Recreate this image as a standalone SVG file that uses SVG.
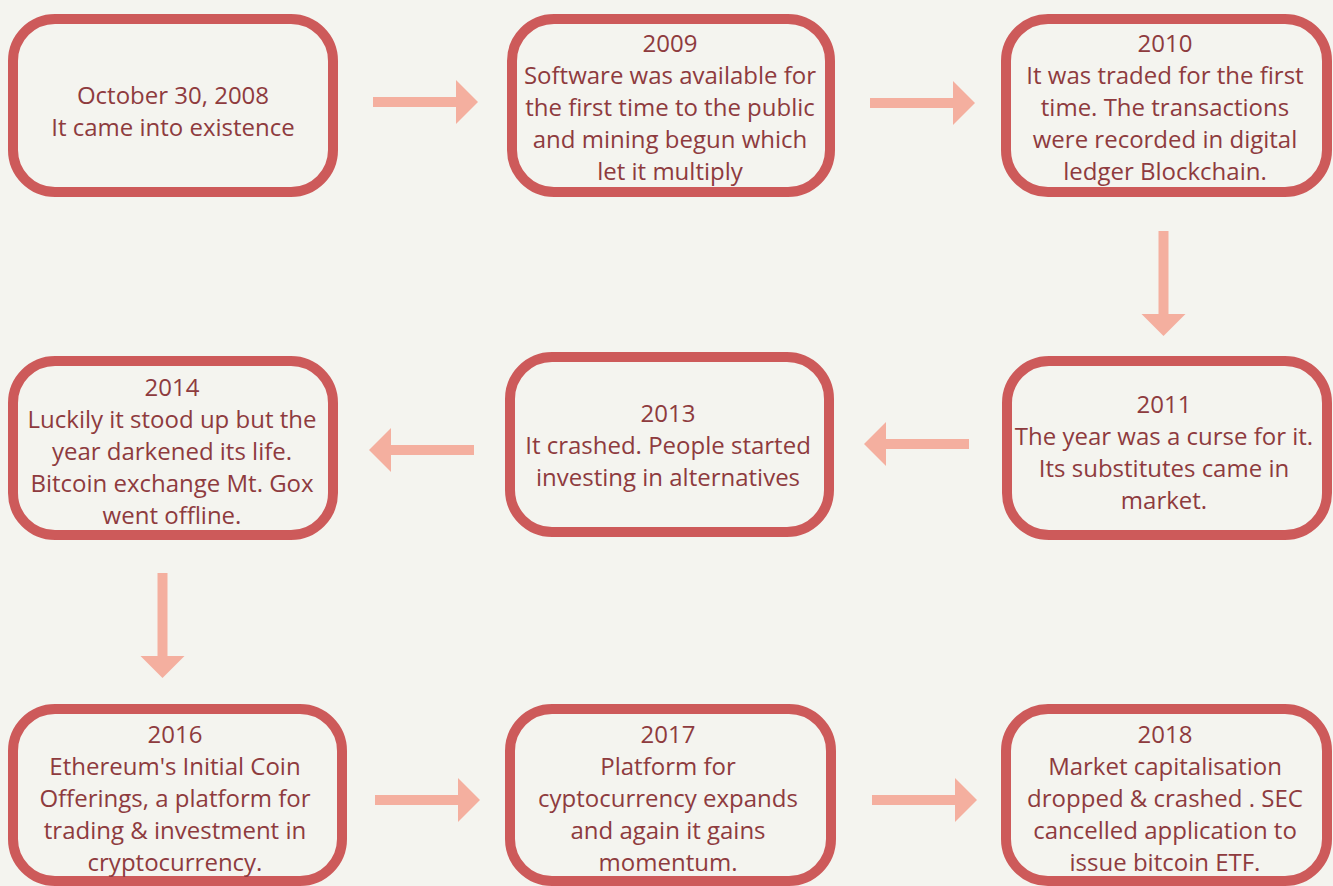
<svg xmlns="http://www.w3.org/2000/svg" xmlns:xlink="http://www.w3.org/1999/xlink" width="1333" height="886" viewBox="0 0 1333 886">
<style>
.box{fill:none;stroke:#CD5A5A;stroke-width:10}
.t{font-family:"Open Sans","Liberation Sans",sans-serif;font-size:24px;fill:#8E3B3E;text-anchor:middle}
.arr{fill:#F4AF9F}
</style>
<defs>
<polygon id="arrow" points="0,-5 83,-5 83,-22 105,0 83,22 83,5 0,5"/>
</defs>
<rect width="1333" height="886" fill="#F4F4EF"/>
<g id="n2008">
<rect class="box" x="13" y="19" width="320" height="173" rx="42"/>
<text class="t" x="173"><tspan x="173" y="104">October 30, 2008</tspan><tspan x="173" y="136">It came into existence</tspan></text>
</g>
<g id="n2009">
<rect class="box" x="512" y="19" width="318" height="173" rx="42"/>
<text class="t"><tspan x="670" y="52">2009</tspan><tspan x="670" y="84">Software was available for</tspan><tspan x="670" y="116">the first time to the public</tspan><tspan x="670" y="148">and mining begun which</tspan><tspan x="670" y="180">let it multiply</tspan></text>
</g>
<g id="n2010">
<rect class="box" x="1006" y="19" width="321" height="173" rx="42"/>
<text class="t"><tspan x="1165" y="52">2010</tspan><tspan x="1165" y="84">It was traded for the first</tspan><tspan x="1165" y="116">time. The transactions</tspan><tspan x="1165" y="148">were recorded in digital</tspan><tspan x="1165" y="180">ledger Blockchain.</tspan></text>
</g>
<g id="n2011">
<rect class="box" x="1007" y="361" width="320" height="174" rx="42"/>
<text class="t"><tspan x="1164" y="413">2011</tspan><tspan x="1164" y="445">The year was a curse for it.</tspan><tspan x="1164" y="477">Its substitutes came in</tspan><tspan x="1164" y="509">market.</tspan></text>
</g>
<g id="n2013">
<rect class="box" x="510" y="357" width="319" height="175" rx="42"/>
<text class="t"><tspan x="668" y="422">2013</tspan><tspan x="668" y="454">It crashed. People started</tspan><tspan x="668" y="486">investing in alternatives</tspan></text>
</g>
<g id="n2014">
<rect class="box" x="13" y="361" width="320" height="174" rx="42"/>
<text class="t"><tspan x="172" y="396">2014</tspan><tspan x="172" y="428">Luckily it stood up but the</tspan><tspan x="172" y="460">year darkened its life.</tspan><tspan x="172" y="492">Bitcoin exchange Mt. Gox</tspan><tspan x="172" y="524">went offline.</tspan></text>
</g>
<g id="n2016">
<rect class="box" x="13" y="709" width="329" height="172" rx="42"/>
<text class="t"><tspan x="175" y="743">2016</tspan><tspan x="175" y="775">Ethereum's Initial Coin</tspan><tspan x="175" y="807">Offerings, a platform for</tspan><tspan x="175" y="839">trading &amp; investment in</tspan><tspan x="175" y="871">cryptocurrency.</tspan></text>
</g>
<g id="n2017">
<rect class="box" x="510" y="709" width="321" height="172" rx="42"/>
<text class="t"><tspan x="668" y="743">2017</tspan><tspan x="668" y="775">Platform for</tspan><tspan x="668" y="807">cyptocurrency expands</tspan><tspan x="668" y="839">and again it gains</tspan><tspan x="668" y="871">momentum.</tspan></text>
</g>
<g id="n2018">
<rect class="box" x="1006" y="709" width="321" height="172" rx="42"/>
<text class="t"><tspan x="1165" y="743">2018</tspan><tspan x="1165" y="775">Market capitalisation</tspan><tspan x="1165" y="807">dropped &amp; crashed . SEC</tspan><tspan x="1165" y="839">cancelled application to</tspan><tspan x="1165" y="871">issue bitcoin ETF.</tspan></text>
</g>
<g id="connectors" class="arr">
<use xlink:href="#arrow" href="#arrow" transform="translate(373,102)"/>
<use xlink:href="#arrow" href="#arrow" transform="translate(870,103)"/>
<use xlink:href="#arrow" href="#arrow" transform="translate(1163.5,231) rotate(90)"/>
<use xlink:href="#arrow" href="#arrow" transform="translate(969,444) rotate(180)"/>
<use xlink:href="#arrow" href="#arrow" transform="translate(474,450) rotate(180)"/>
<use xlink:href="#arrow" href="#arrow" transform="translate(162.5,573) rotate(90)"/>
<use xlink:href="#arrow" href="#arrow" transform="translate(375,800)"/>
<use xlink:href="#arrow" href="#arrow" transform="translate(872,800)"/>
</g>
</svg>
